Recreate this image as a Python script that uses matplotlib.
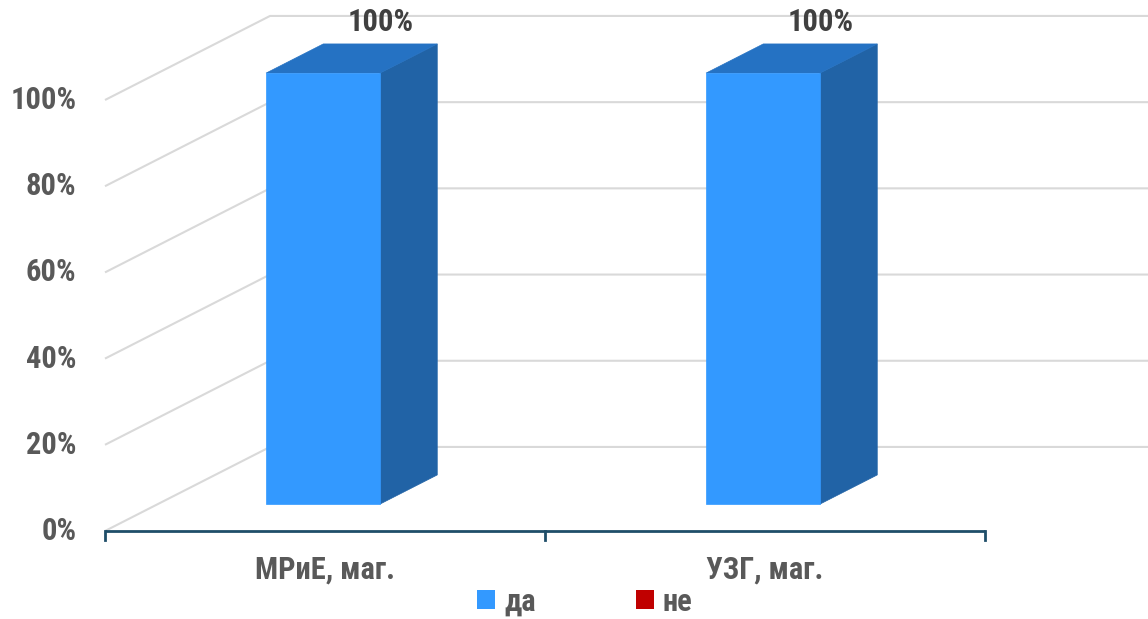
import matplotlib
matplotlib.use('Agg')
import matplotlib.pyplot as plt
from matplotlib.patches import Polygon, Patch
from matplotlib import font_manager

categories = ['МРиЕ, маг.', 'УЗГ, маг.']
series_names = ['да', 'не']
yes_values = [100, 100]
no_values = [0, 0]
tick_values = [0, 20, 40, 60, 80, 100]
tick_labels = ['0%', '20%', '40%', '60%', '80%', '100%']
data_labels = ['100%', '100%']

names = {f.name for f in font_manager.fontManager.ttflist}
prefs = ['Liberation Sans Narrow', 'Arial Narrow', 'Roboto Condensed', 'PT Sans Narrow',
         'Fira Sans Condensed', 'Open Sans Condensed', 'Liberation Sans']
main = next(f for f in prefs + ['DejaVu Sans'] if f in names or f == 'DejaVu Sans')
plt.rcParams['font.family'] = [main, 'DejaVu Sans']

# oblique projection: depth z in [0,1]
DX, DY = 0.375, 19.5
def proj(x, y, z):
    return x + DX * z, y + DY * z

fig = plt.figure(figsize=(11.48, 6.19), dpi=100)
ax = fig.add_axes([0, 0, 1, 1])
ax.set_xlim(-105 / 440, 1043 / 440)
ax.set_ylim(-88 / 4.31, 531 / 4.31)
ax.axis('off')

grid_c = '#D9D9D9'
ncat = len(categories)
for v in tick_values:
    p0 = proj(0, v, 0)
    p1 = proj(0, v, 1)
    p2 = proj(ncat, v, 1)
    ax.plot([p0[0], p1[0], p2[0]], [p0[1], p1[1], p2[1]], color=grid_c, lw=1.5, zorder=1,
            solid_capstyle='butt')

# category axis
axis_c = '#1F4E69'
ax.plot([0, ncat], [0, 0], color=axis_c, lw=2, zorder=3, solid_capstyle='butt')
for i in range(ncat + 1):
    ax.plot([i, i], [0, -2.1], color=axis_c, lw=2, zorder=3)

FS = 22
# y tick labels
for v, lab in zip(tick_values, tick_labels):
    ax.annotate(lab, xy=(0, v), xytext=(-20.5, 0), textcoords='offset points',
                ha='right', va='center', fontsize=FS, fontweight='bold', color='#595959')

# bars
Z0, Z1 = 0.32, 0.667
OFF, W = 0.246, 0.259
front_c, side_c, top_c = '#3399FF', '#2163A6', '#2572C3'
for i, (val, lab) in enumerate(zip(yes_values, data_labels)):
    if val <= 0:
        continue
    x0, x1 = i + OFF, i + OFF + W
    side = [proj(x1, 0, Z0), proj(x1, 0, Z1), proj(x1, val, Z1), proj(x1, val, Z0)]
    top = [proj(x0, val, Z0), proj(x0, val, Z1), proj(x1, val, Z1), proj(x1, val, Z0)]
    front = [proj(x0, 0, Z0), proj(x1, 0, Z0), proj(x1, val, Z0), proj(x0, val, Z0)]
    ax.add_patch(Polygon(side, closed=True, facecolor=side_c, edgecolor=side_c, lw=0.5, zorder=4))
    ax.add_patch(Polygon(top, closed=True, facecolor=top_c, edgecolor=top_c, lw=0.5, zorder=4))
    ax.add_patch(Polygon(front, closed=True, facecolor=front_c, edgecolor=front_c, lw=0.5, zorder=5))
    lx, ly = proj((x0 + x1) / 2, val, Z1)
    ax.annotate(lab, xy=(lx, ly), xytext=(0, 15.5), textcoords='offset points',
                ha='center', va='center', fontsize=FS, fontweight='bold', color='#404040', zorder=6)

# category labels
for i, c in enumerate(categories):
    ax.annotate(c, xy=(i + 0.5, 0), xytext=(0, -28), textcoords='offset points',
                ha='center', va='center', fontsize=FS, fontweight='bold', color='#595959')

handles = [Patch(facecolor='#3399FF', edgecolor='none'), Patch(facecolor='#C00000', edgecolor='none')]
leg = fig.legend(handles, series_names, loc='center', bbox_to_anchor=(0.5096, 0.028), ncol=2,
                 frameon=False, fontsize=FS, handlelength=0.57, handleheight=0.57,
                 handletextpad=0.3, columnspacing=3.3, borderpad=0)
for t in leg.get_texts():
    t.set_color('#595959')
    t.set_fontweight('bold')

fig.savefig('out.png', dpi=100)
